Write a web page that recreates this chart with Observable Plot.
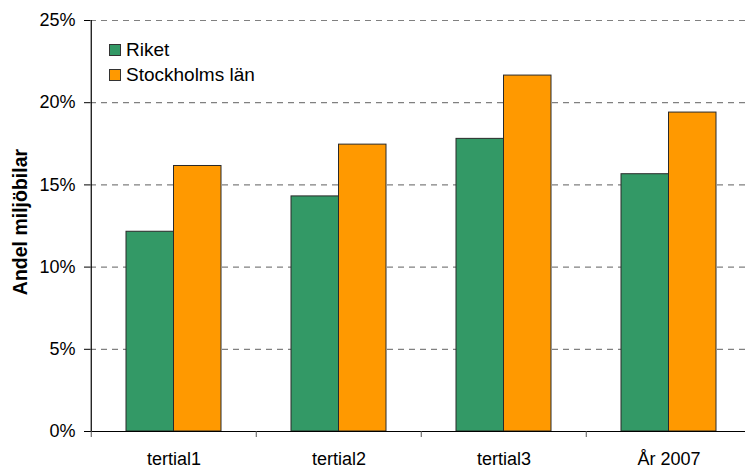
<!DOCTYPE html>
<html>
<head>
<meta charset="utf-8">
<script src="https://cdn.jsdelivr.net/npm/d3@7"></script>
<script src="https://cdn.jsdelivr.net/npm/@observablehq/plot@0.6"></script>
<style>
  html, body { margin: 0; padding: 0; background: #fff; }
  body { font-family: "Liberation Sans", Arial, sans-serif; color: #000; }
  #wrap { position: relative; width: 745px; height: 469px; overflow: hidden; }
  #legend { position: absolute; left: 109px; top: 37px; font-size: 19px; }
  #legend .row { display: flex; align-items: center; height: 25px; }
  #legend .sw { width: 10px; height: 10px; border: 1px solid #333; margin-right: 5px; }
  #ylabel { position: absolute; left: 20px; top: 222px; transform: translate(-50%, -50%) rotate(-90deg);
            font-size: 19.5px; font-weight: bold; white-space: nowrap; }
</style>
</head>
<body>
<div id="wrap"></div>
<script>
const categories = ["tertial1", "tertial2", "tertial3", "År 2007"];
const series = ["Riket", "Stockholms län"];
const riket = [12.15, 14.3, 17.8, 15.65];
const stockholm = [16.15, 17.45, 21.65, 19.4];
const yTicks = [0, 5, 10, 15, 20, 25];
const colors = ["#339966", "#FF9900"];
const yTitle = "Andel miljöbilar";

const rows = categories.flatMap((c, i) => [
  {category: c, series: series[0], value: riket[i]},
  {category: c, series: series[1], value: stockholm[i]}
]);

const W = 745, H = 469, mL = 90, mR = -7;
const step = (W - mR - mL) / categories.length;
const padInner = 1 - 95 / step;

const chart = Plot.plot({
  width: W,
  height: H,
  marginLeft: mL,
  marginRight: mR,
  marginTop: 20,
  marginBottom: 38,
  style: {fontFamily: "'Liberation Sans', Arial, sans-serif", fontSize: "18px", background: "white", color: "#000", overflow: "hidden"},
  x: {domain: categories, paddingInner: padInner, paddingOuter: padInner / 2, label: null},
  y: {domain: [0, 25], label: null},
  color: {domain: series, range: colors},
  marks: [
    Plot.ruleY(yTicks.filter(d => d > 0), {stroke: "#808080", strokeWidth: 1.2, strokeDasharray: "6,5"}),
    Plot.barY(rows.filter(d => d.series === series[0]), {x: "category", y: "value", fill: "series", stroke: "#2a2a2a", strokeWidth: 1, insetRight: 47.5}),
    Plot.barY(rows.filter(d => d.series === series[1]), {x: "category", y: "value", fill: "series", stroke: "#2a2a2a", strokeWidth: 1, insetLeft: 47.5}),
    Plot.ruleY([0], {stroke: "#000", strokeWidth: 1.2}),
    Plot.ruleX([categories[0]], {y1: 0, y2: 25, dx: -step / 2, stroke: "#000", strokeWidth: 1.2}),
    Plot.axisY({ticks: yTicks, tickFormat: d => d + "%", tickSize: 6, tickPadding: 9, fontSize: 18, stroke: "#000"}),
    Plot.axisX({tickSize: 0, tickPadding: 21, fontSize: 18}),
    Plot.axisX({tickSize: 6, tickFormat: () => "", dx: -step / 2, stroke: "#555"})
  ]
});

const wrap = document.getElementById("wrap");
wrap.appendChild(chart);

const legend = document.createElement("div");
legend.id = "legend";
series.forEach((s, i) => {
  const row = document.createElement("div");
  row.className = "row";
  const sw = document.createElement("span");
  sw.className = "sw";
  sw.style.background = colors[i];
  const t = document.createElement("span");
  t.textContent = s;
  row.appendChild(sw);
  row.appendChild(t);
  legend.appendChild(row);
});
wrap.appendChild(legend);

const yl = document.createElement("div");
yl.id = "ylabel";
yl.textContent = yTitle;
wrap.appendChild(yl);
</script>
</body>
</html>
